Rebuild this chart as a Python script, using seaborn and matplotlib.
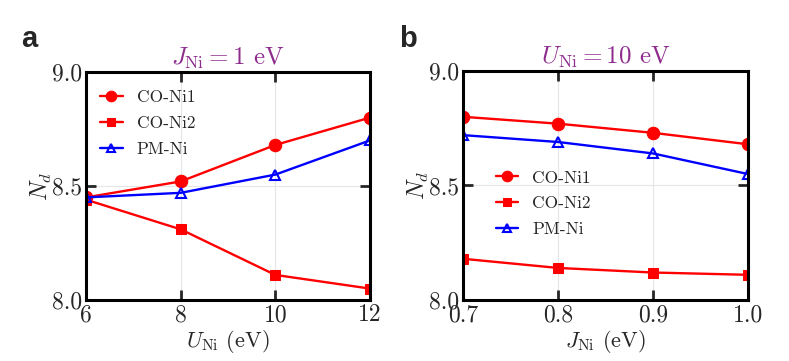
import numpy as np
import pandas as pd
import seaborn as sns
import matplotlib
matplotlib.use("Agg")
import matplotlib.pyplot as plt

# ---- data ----
U_vals = [6, 8, 10, 12]
a_co_ni1 = [8.45, 8.52, 8.68, 8.80]
a_co_ni2 = [8.44, 8.31, 8.11, 8.05]
a_pm_ni = [8.45, 8.47, 8.55, 8.70]

J_vals = [0.7, 0.8, 0.9, 1.0]
b_co_ni1 = [8.80, 8.77, 8.73, 8.68]
b_co_ni2 = [8.18, 8.14, 8.12, 8.11]
b_pm_ni = [8.72, 8.69, 8.64, 8.55]

series_names = ["CO-Ni1", "CO-Ni2", "PM-Ni"]
a_xticks = [6, 8, 10, 12]
b_xticks = [0.7, 0.8, 0.9, 1.0]
yticks = [8.0, 8.5, 9.0]

sns.set_style("ticks")
plt.rcParams["font.family"] = "serif"
plt.rcParams["font.serif"] = ["cmr10", "DejaVu Serif"]
plt.rcParams["mathtext.fontset"] = "cm"
plt.rcParams["axes.formatter.use_mathtext"] = True
plt.rcParams["axes.unicode_minus"] = False

fig = plt.figure(figsize=(7.89, 3.61), dpi=100)
W, H = 789, 361
axa = fig.add_axes([86 / W, 1 - 300 / H, (370 - 86) / W, (300 - 72) / H])
axb = fig.add_axes([463 / W, 1 - 300 / H, (748 - 463) / W, (300 - 71) / H])

styles = [
    dict(color="#ff0000", marker="o", markersize=9, markerfacecolor="#ff0000"),
    dict(color="#ff0000", marker="s", markersize=7.5, markerfacecolor="#ff0000"),
    dict(color="#0000ff", marker="^", markersize=7.5, markerfacecolor="none",
         markeredgewidth=1.5),
]


def draw(ax, xs, ys_list, xticks, xlabel, title, legend_kw):
    for name, ys, st in zip(series_names, ys_list, styles):
        df = pd.DataFrame({"x": xs, "y": ys})
        sns.lineplot(data=df, x="x", y="y", ax=ax, label=name, linewidth=1.7,
                     markeredgecolor=st["color"], **st)
    ax.set_xlim(xticks[0], xticks[-1])
    ax.set_ylim(8.0, 9.0)
    ax.set_xticks(xticks)
    ax.set_yticks(yticks)
    ax.set_xticklabels([f"{t:g}" if isinstance(t, int) else f"{t:.1f}" for t in xticks])
    ax.set_yticklabels([f"{t:.1f}" for t in yticks])
    ax.grid(True, color="#e6e6e6", linewidth=0.8)
    ax.tick_params(direction="in", top=True, right=True, length=7, width=2.0,
                   labelsize=17, pad=3)
    for s in ax.spines.values():
        s.set_linewidth(2.2)
        s.set_color("black")
    ax.set_xlabel(xlabel, fontsize=16, labelpad=1)
    ax.set_ylabel(r"$N_d$", fontsize=17, labelpad=-2)
    ax.set_title(title, fontsize=18, color="#8e2c8e", pad=5)
    ax.legend(frameon=False, fontsize=12.5, handlelength=1.3, handletextpad=0.8,
              labelspacing=0.6, markerscale=0.85, **legend_kw)


draw(axa, U_vals, [a_co_ni1, a_co_ni2, a_pm_ni], a_xticks,
     r"$U_{\rm Ni}$ (eV)", r"$J_{\rm Ni} = 1$ eV",
     dict(loc="upper left", bbox_to_anchor=(-0.005, 0.99)))
draw(axb, J_vals, [b_co_ni1, b_co_ni2, b_pm_ni], b_xticks,
     r"$J_{\rm Ni}$ (eV)", r"$U_{\rm Ni} = 10$ eV",
     dict(loc="upper left", bbox_to_anchor=(0.06, 0.635)))

fig.text(21 / W, 1 - 47 / H, "a", fontsize=21, fontweight="bold",
         family="Liberation Sans")
fig.text(399 / W, 1 - 47 / H, "b", fontsize=21, fontweight="bold",
         family="Liberation Sans")

fig.savefig("out.png", dpi=100)
